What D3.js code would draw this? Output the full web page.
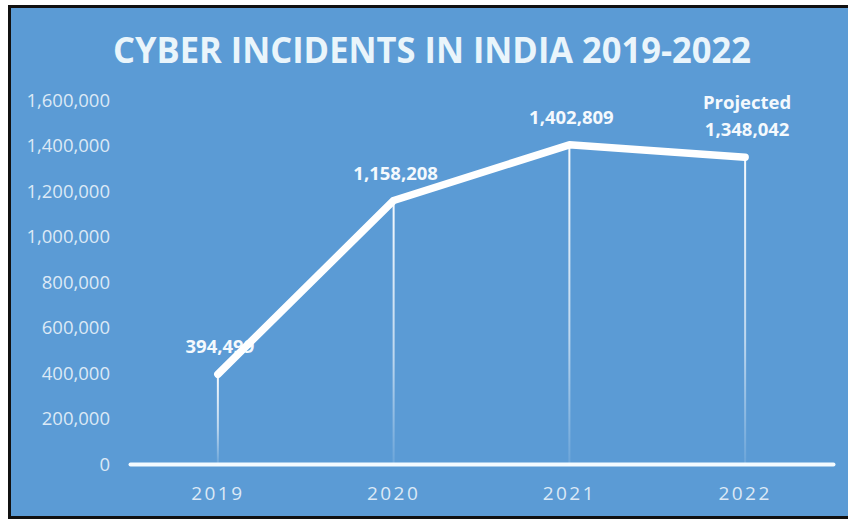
<!DOCTYPE html>
<html><head><meta charset="utf-8">
<script src="https://cdn.jsdelivr.net/npm/d3@7/dist/d3.min.js"></script>
<style>html,body{margin:0;padding:0;background:#fff;}svg{display:block;}</style>
</head><body>
<svg id="chart" width="850" height="521"></svg>
<script>
const years = ["2019", "2020", "2021", "2022"];
const incidents = [394499, 1158208, 1402809, 1348042];
const valueLabels = [["394,499"], ["1,158,208"], ["1,402,809"], ["Projected", "1,348,042"]];
const yTicks = [0, 200000, 400000, 600000, 800000, 1000000, 1200000, 1400000, 1600000];
const title = "CYBER INCIDENTS IN INDIA 2019-2022";

const svg = d3.select("#chart");
const W = 850, H = 521;
svg.append("rect").attr("x", 0).attr("y", 0).attr("width", W).attr("height", H).attr("fill", "#ffffff");
svg.append("rect").attr("x", 8).attr("y", 5).attr("width", 840).attr("height", 514).attr("fill", "#111");
svg.append("rect").attr("x", 11).attr("y", 8).attr("width", 837).attr("height", 508).attr("fill", "#5b9bd5");

const x = d3.scaleBand().domain(years).range([130, 833]);
const y = d3.scaleLinear().domain([0, 1600000]).range([464, 100]);
const cx = d => x(d) + x.bandwidth() / 2;

const defs = svg.append("defs");
const grad = defs.append("linearGradient").attr("id", "drop").attr("x1", 0).attr("y1", 0).attr("x2", 0).attr("y2", 1);
grad.append("stop").attr("offset", "0%").attr("stop-color", "#fff").attr("stop-opacity", 0.95);
grad.append("stop").attr("offset", "60%").attr("stop-color", "#fff").attr("stop-opacity", 0.6);
grad.append("stop").attr("offset", "100%").attr("stop-color", "#fff").attr("stop-opacity", 0.1);

// title
svg.append("text").attr("x", 432).attr("y", 63).attr("text-anchor", "middle")
  .attr("font-family", "'Open Sans', sans-serif").attr("font-weight", 700).attr("font-size", 35)
  .attr("fill", "#eaf5fb").attr("textLength", 638).attr("lengthAdjust", "spacingAndGlyphs")
  .text(title);

// y axis labels
const yAxis = d3.axisLeft(y).tickValues(yTicks).tickFormat(d3.format(",")).tickSize(0).tickPadding(0);
const ya = svg.append("g").attr("transform", "translate(110,0)").call(yAxis);
ya.select(".domain").remove();
ya.selectAll("text").attr("font-family", "'Open Sans', sans-serif").attr("font-size", 18.5)
  .attr("fill", "#dce9f6").attr("dy", "0.35em");

// drop lines
svg.append("g").selectAll("rect").data(years).join("rect")
  .attr("x", d => cx(d) - 1).attr("width", 2)
  .attr("y", (d, i) => y(incidents[i]))
  .attr("height", (d, i) => y(0) - y(incidents[i]))
  .attr("fill", "url(#drop)");

// x axis
const xAxis = d3.axisBottom(x).tickSize(0).tickPadding(0);
const xa = svg.append("g").attr("transform", "translate(0,464)").call(xAxis);
xa.select(".domain").attr("stroke", "#f4fbff").attr("stroke-width", 4).attr("stroke-linecap", "round");
xa.selectAll("text").attr("font-family", "'Open Sans', sans-serif").attr("font-size", 19)
  .attr("fill", "#dce9f6").attr("letter-spacing", 2.5).attr("dy", 0).attr("y", 36);

// value labels
const lbl = svg.append("g");
years.forEach((yr, i) => {
  const lines = valueLabels[i];
  const base = y(incidents[i]) - 21;
  lines.forEach((t, j) => {
    lbl.append("text").attr("x", cx(yr) + 2).attr("y", base - (lines.length - 1 - j) * 27)
      .attr("text-anchor", "middle").attr("font-family", "'Open Sans', sans-serif")
      .attr("font-weight", 700).attr("font-size", 18.5).attr("fill", "#f4f9fd").text(t);
  });
});

// line
const line = d3.line().x((d, i) => cx(years[i])).y(d => y(d));
svg.append("path").datum(incidents).attr("d", line).attr("fill", "none")
  .attr("stroke", "#ffffff").attr("stroke-width", 7.5).attr("stroke-linejoin", "round").attr("stroke-linecap", "round");
</script>
</body></html>
